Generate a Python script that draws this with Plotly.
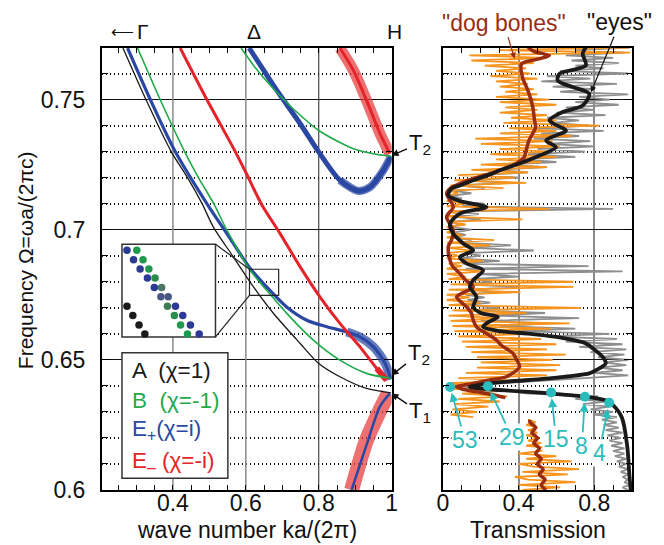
import numpy as np
import plotly.graph_objects as go

# ---------------- band structure (left panel) ----------------
A_k = [0.263, 0.326, 0.3953, 0.44, 0.48, 0.511, 0.566, 0.621, 0.676, 0.749, 0.80, 0.858, 0.931, 0.998]
A_w = [0.7698, 0.75, 0.73, 0.72, 0.71, 0.701, 0.6895, 0.678, 0.6678, 0.6563, 0.6486, 0.6435, 0.639, 0.6373]

B_k = [0.303, 0.365, 0.432, 0.47, 0.512, 0.548, 0.612, 0.657, 0.721, 0.785, 0.858, 0.931, 0.998]
B_w = [0.7698, 0.75, 0.73, 0.72, 0.71, 0.6998, 0.6844, 0.6767, 0.6665, 0.6576, 0.6499, 0.6448, 0.6429]
B2_k = [0.587, 0.63, 0.68, 0.735, 0.80, 0.895, 0.95, 0.998]
B2_w = [0.7698, 0.7615, 0.7535, 0.7458, 0.7381, 0.7311, 0.7292, 0.7282]

Ep_k = [0.2756, 0.338, 0.4063, 0.493, 0.548, 0.612, 0.657, 0.712, 0.767, 0.822, 0.877, 0.913, 0.95, 0.982, 0.998]
Ep_w = [0.7698, 0.75, 0.73, 0.71, 0.6985, 0.6851, 0.678, 0.6703, 0.6652, 0.6627, 0.6607, 0.6588, 0.655, 0.6486, 0.6425]
Ep2_k = [0.609, 0.65, 0.685, 0.749, 0.803, 0.858, 0.908, 0.941, 0.977, 0.998]
Ep2_w = [0.7698, 0.761, 0.7535, 0.7407, 0.7292, 0.719, 0.7149, 0.7164, 0.7228, 0.7282]
Ep3_k = [0.890, 0.931, 0.968, 0.995]
Ep3_w = [0.600, 0.6173, 0.6321, 0.6371]

Em_k = [0.420, 0.493, 0.571, 0.607, 0.642, 0.694, 0.749, 0.803, 0.858, 0.913, 0.959, 0.986]
Em_w = [0.7698, 0.75, 0.73, 0.72, 0.71, 0.6985, 0.6857, 0.6742, 0.664, 0.655, 0.6467, 0.6422]
Em2_k = [0.858, 0.895, 0.931, 0.968, 0.995]
Em2_w = [0.7698, 0.7612, 0.7497, 0.7369, 0.7292]
Em3_k = [0.890, 0.931, 0.968, 0.991]
Em3_w = [0.600, 0.6192, 0.6307, 0.6371]

# inset dots (zoomed view)
in_y = [0.6921, 0.6885, 0.6849, 0.6814, 0.6778, 0.6742, 0.6706, 0.6670, 0.6634, 0.6599]
in_blue_k = [0.274, 0.292, 0.310, 0.330, 0.349, 0.367, 0.407, 0.427, 0.448, 0.472]
in_green_k = [0.301, 0.318, 0.334, 0.351, 0.369, 0.387, 0.385, 0.404, 0.421, 0.440]
in_black_k = [0.274, 0.290, 0.307, 0.323]
in_black_y = [0.6706, 0.6670, 0.6634, 0.6599]

legend_rows = ["A  (χ=1)", "B  (χ=-1)", "E<sub>+</sub>(χ=i)", "E<sub>–</sub> (χ=-i)"]

# ---------------- transmission (right panel) ----------------
orange_lo = [0.42, 0.62, 0.40, 0.70, 0.45, 0.38, 0.66, 0.42, 0.72, 0.48,
             0.40, 0.68, 0.44, 0.60, 0.40, 0.52, 0.58, 0.44, 0.52, 0.45,
             0.51, 0.44, 0.50, 0.45, 0.50, 0.44, 0.49, 0.45]          # 0.600 .. 0.627
orange_hi = [0.16, 0.04, 0.18, 0.05, 0.24, 0.06, 0.30, 0.08, 0.34, 0.10,
             0.30, 0.02, 0.10, 0.03, 0.40, 0.08, 0.55, 0.12, 0.60, 0.18,
             0.62, 0.20, 0.58, 0.18, 0.65, 0.15, 0.55, 0.12, 0.60, 0.10,
             0.52, 0.08, 0.48, 0.06, 0.57, 0.05, 0.67, 0.04, 0.30, 0.03,
             0.44, 0.05, 0.73, 0.03, 0.20, 0.02, 0.14, 0.02, 0.41, 0.03,
             0.69, 0.04, 0.69, 0.03, 0.12, 0.02, 0.22, 0.02, 0.10, 0.03,
             0.21, 0.02, 0.08, 0.02, 0.15, 0.03, 0.25, 0.02, 0.27, 0.02,
             0.10, 0.02, 0.06, 0.02, 0.12, 0.03, 0.42, 0.02, 0.08, 0.03,
             0.56, 0.02, 0.12, 0.02, 0.06, 0.02, 0.08, 0.03, 0.32, 0.04,
             0.44, 0.06, 0.38, 0.08, 0.45, 0.15, 0.55, 0.20, 0.52, 0.28,
             0.60, 0.25, 0.55, 0.30, 0.62, 0.20, 0.58, 0.17, 0.68, 0.30,
             0.60, 0.35, 0.83, 0.32, 0.60, 0.36, 0.55, 0.30, 0.50, 0.33,
             0.60, 0.30, 0.56, 0.28, 0.50, 0.33, 0.48, 0.30, 0.45, 0.28,
             0.50, 0.25, 0.46, 0.28, 0.44, 0.22, 0.48, 0.15, 0.55, 0.14,
             0.99, 0.30, 0.98]                                          # 0.628 .. 0.770
gray_T = [0.98, 0.95, 0.99, 0.96, 0.98, 0.95, 0.98, 0.94, 0.98, 0.93,
          0.97, 0.92, 0.97, 0.91, 0.96, 0.90, 0.96, 0.89, 0.95, 0.88,
          0.94, 0.87, 0.95, 0.86, 0.93, 0.85, 0.92, 0.84, 0.92, 0.80,
          0.90, 0.78, 0.88, 0.74, 0.86, 0.70, 0.82, 0.45, 0.35, 0.15,
          0.10, 0.30, 0.55, 0.75, 0.98, 0.80, 0.95, 0.82, 0.97, 0.85,
          0.98, 0.82, 0.96, 0.78, 0.97, 0.72, 0.95, 0.65, 0.92, 0.55,
          0.88, 0.40, 0.70, 0.30, 0.55, 0.20, 0.72, 0.25, 0.54, 0.15,
          0.30, 0.12, 0.25, 0.13, 0.22, 0.12, 0.28, 0.15, 0.40, 0.12,
          0.26, 0.15, 0.40, 0.18, 0.95, 0.12, 0.77, 0.10, 0.30, 0.08,
          0.20, 0.12, 0.48, 0.15, 0.36, 0.08, 0.15, 0.05, 0.12, 0.06,
          0.15, 0.05, 0.08, 0.04, 0.20, 0.05, 0.19, 0.06, 0.90, 0.10,
          0.22, 0.05, 0.10, 0.04, 0.15, 0.05, 0.22, 0.08, 0.35, 0.10,
          0.40, 0.20, 0.45, 0.28, 0.55, 0.32, 0.60, 0.40, 0.70, 0.45,
          0.75, 0.50, 0.80, 0.55, 0.78, 0.48, 0.72, 0.52, 0.85, 0.50,
          0.78, 0.58, 0.72, 0.55, 0.86, 0.60, 0.80, 0.65, 0.93, 0.70,
          0.88, 0.72, 0.98, 0.62, 0.80, 0.58, 0.92, 0.52, 0.78, 0.55,
          0.98, 0.62, 0.85, 0.70, 0.93, 0.68, 0.90, 0.65, 0.96, 0.70,
          0.99]                                                         # 0.600 .. 0.770
freq_step = 0.001

eyes_f = [0.600, 0.606, 0.6166, 0.6281, 0.6339, 0.6358, 0.6371, 0.6380, 0.6388, 0.6396,
          0.6405, 0.6416, 0.6429, 0.6448, 0.6460, 0.6486, 0.6512, 0.6540, 0.6563, 0.6588,
          0.6601, 0.6610, 0.6627, 0.6645, 0.6665, 0.6680, 0.6703, 0.6742, 0.6780, 0.6806,
          0.6844, 0.6870, 0.6895, 0.6921, 0.6947, 0.6985, 0.7023, 0.7062, 0.7087, 0.7110,
          0.7132, 0.7158, 0.7170, 0.7190, 0.7215, 0.7228, 0.7254, 0.7285, 0.7317, 0.7343,
          0.7381, 0.7405, 0.7420, 0.7452, 0.7477, 0.7522, 0.7548, 0.7573, 0.7599, 0.7631,
          0.7676, 0.7701]
eyes_T = [0.993, 0.986, 0.975, 0.945, 0.879, 0.756, 0.57, 0.39, 0.22, 0.142,
          0.2, 0.335, 0.563, 0.774, 0.809, 0.861, 0.844, 0.80, 0.756, 0.60,
          0.45, 0.30, 0.212, 0.24, 0.29, 0.20, 0.16, 0.177, 0.142, 0.16,
          0.212, 0.125, 0.089, 0.16, 0.107, 0.054, 0.037, 0.089, 0.23, 0.089,
          0.028, 0.045, 0.089, 0.16, 0.26, 0.30, 0.405, 0.511, 0.598, 0.546,
          0.651, 0.59, 0.563, 0.633, 0.739, 0.774, 0.686, 0.607, 0.616, 0.756,
          0.739, 0.756]

dog_f = [0.6355, 0.6368, 0.6377, 0.6388, 0.6396, 0.6409, 0.6422, 0.6435, 0.6473, 0.6500,
         0.6525, 0.6555, 0.6576, 0.6601, 0.6625, 0.6652, 0.6680, 0.6703, 0.6742, 0.6780,
         0.6806, 0.6832, 0.6860, 0.6883, 0.6934, 0.6960, 0.6998, 0.7049, 0.7087, 0.7139,
         0.7160, 0.7177, 0.7196, 0.7215, 0.7234, 0.7254, 0.7279, 0.7305, 0.7343, 0.7394,
         0.7420, 0.7471, 0.7535, 0.7586, 0.7637, 0.7655, 0.7669, 0.7685, 0.7700]
dog_T = [0.33, 0.25, 0.18, 0.10, 0.072, 0.16, 0.24, 0.335, 0.405, 0.39,
         0.37, 0.31, 0.283, 0.23, 0.18, 0.16, 0.15, 0.125, 0.072, 0.16,
         0.12, 0.089, 0.05, 0.037, 0.028, 0.045, 0.054, 0.019, 0.054, 0.019,
         0.04, 0.089, 0.16, 0.247, 0.32, 0.388, 0.43, 0.44, 0.455, 0.49,
         0.484, 0.475, 0.449, 0.42, 0.416, 0.50, 0.563, 0.48, 0.45]
dog_lo_f = [0.600, 0.602, 0.604, 0.606, 0.608, 0.610, 0.612, 0.614, 0.616, 0.618, 0.620, 0.622, 0.624, 0.626, 0.627]
dog_lo_T = [0.545, 0.52, 0.54, 0.51, 0.53, 0.50, 0.52, 0.49, 0.51, 0.48, 0.50, 0.47, 0.49, 0.46, 0.46]

cyan_T = [0.037, 0.238, 0.572, 0.751, 0.879]
cyan_f = [0.6396, 0.6399, 0.6375, 0.6358, 0.6335]
cyan_labels = ["53", "29", "15", "8", "4"]
cyan_offsets = [(15, 53), (24, 51), (5, 47), (-3, 49), (-10, 50)]

# ---------------- styling ----------------
FONT = "Liberation Sans, Arial, sans-serif"
C_BLACK = "#1a1a1a"
C_GREEN = "#1faa4a"
C_BLUE = "#2a48a3"
C_RED = "#e5232a"
C_RED_T = "rgba(232,58,58,0.72)"
C_BLUE_T = "rgba(42,72,163,0.72)"
C_ORANGE = "#f7941d"
C_GRAY = "#8e8e8e"
C_DOG = "#9a2c12"
C_CYAN = "#2bbdbd"

fig = go.Figure()


def line(x, y, color, width, ax="x", ay="y", spline=True):
    fig.add_trace(go.Scatter(
        x=x, y=y, mode="lines", xaxis=ax, yaxis=ay,
        line=dict(color=color, width=width,
                  shape="spline" if spline else "linear", smoothing=0.8),
        hoverinfo="skip", showlegend=False))


# left panel bands
line(Em2_k, Em2_w, C_RED_T, 11)
line(Em3_k, Em3_w, C_RED_T, 15)
line(Em2_k, Em2_w, C_RED, 3)
line(Ep_k[10:], Ep_w[10:], C_BLUE_T, 9)
line(Ep2_k[5:], Ep2_w[5:], C_BLUE_T, 8)
line(Ep_k, Ep_w, C_BLUE, 3.2)
line(Ep2_k, Ep2_w, C_BLUE, 5)
line(Ep3_k, Ep3_w, C_BLUE, 2.5)
line(Em_k, Em_w, C_RED, 3)
line(Em_k[-2:], Em_w[-2:], C_RED, 6)
line(A_k, A_w, C_BLACK, 1.3)
line(B_k, B_w, C_GREEN, 1.6)
line(B2_k, B2_w, C_GREEN, 1.6)

# inset dots
blue_cols = ["#2b3a92"] * 5 + ["#4a5584", "#2b3a92", "#2b3a92", "#2b3a92", "#2b3a92"]
green_cols = ["#1f9a4c", "#1f9a4c", "#1f9a4c", "#2e8a4a", "#4a7560", "#4a5584",
              "#3f7a55", "#2a8f4e", "#1f9a4c", "#1f9a4c"]
fig.add_trace(go.Scatter(x=in_blue_k, y=in_y, mode="markers", xaxis="x", yaxis="y",
                         marker=dict(size=7.5, color=blue_cols), hoverinfo="skip", showlegend=False))
fig.add_trace(go.Scatter(x=in_green_k, y=in_y, mode="markers", xaxis="x", yaxis="y",
                         marker=dict(size=7.5, color=green_cols), hoverinfo="skip", showlegend=False))
fig.add_trace(go.Scatter(x=in_black_k, y=in_black_y, mode="markers", xaxis="x", yaxis="y",
                         marker=dict(size=7.5, color="#1a1a1a"), hoverinfo="skip", showlegend=False))

# right panel spiky data
f_lo = [round(0.600 + freq_step * i, 4) for i in range(len(orange_lo))]
f_hi = [round(0.628 + freq_step * i, 4) for i in range(len(orange_hi))]
f_gray = [round(0.600 + freq_step * i, 4) for i in range(len(gray_T))]
line(gray_T, f_gray, C_GRAY, 1.8, "x2", "y2", spline=False)
line(orange_lo + [None] + orange_hi, f_lo + [None] + f_hi, C_ORANGE, 1.8, "x2", "y2", spline=False)
line(dog_lo_T, dog_lo_f, C_DOG, 3.5, "x2", "y2")
line(dog_T, dog_f, C_DOG, 3.5, "x2", "y2")
line(eyes_T, eyes_f, C_BLACK, 3.8, "x2", "y2")
fig.add_trace(go.Scatter(x=cyan_T, y=cyan_f, mode="markers", xaxis="x2", yaxis="y2",
                         marker=dict(size=10, color=C_CYAN), hoverinfo="skip", showlegend=False))

# ---------------- shapes ----------------
shapes = []
for xv, col, w in [(0.4, "#8a8a8a", 1.5), (0.6, "#8a8a8a", 1.5), (0.8, "#222222", 1.0)]:
    shapes.append(dict(type="line", xref="x", yref="y", x0=xv, x1=xv, y0=0.6, y1=0.7698,
                       line=dict(color=col, width=w), layer="between"))
shapes.append(dict(type="rect", xref="x", yref="y", x0=0.2603, x1=0.5167, y0=0.6588, y1=0.6944,
                   fillcolor="white", line=dict(color="#333333", width=1.5), layer="between"))
shapes.append(dict(type="rect", xref="x", yref="y", x0=0.2603, x1=0.5507, y0=0.6045, y1=0.6527,
                   fillcolor="white", line=dict(color="#333333", width=1.5), layer="between"))
shapes.append(dict(type="rect", xref="x", yref="y", x0=0.610, x1=0.690, y0=0.6748, y1=0.6848,
                   line=dict(color="#222222", width=1.2), layer="above"))
shapes.append(dict(type="line", xref="x", yref="y", x0=0.5167, y0=0.6944, x1=0.610, y1=0.6848,
                   line=dict(color="#222222", width=1.2), layer="above"))
shapes.append(dict(type="line", xref="x", yref="y", x0=0.5167, y0=0.6588, x1=0.610, y1=0.6748,
                   line=dict(color="#222222", width=1.2), layer="above"))

# ---------------- annotations ----------------
ann = []
leg_y = [0.6460, 0.6345, 0.6230, 0.6109]
leg_c = [C_BLACK, C_GREEN, C_BLUE, C_RED]
for t, yv, c in zip(legend_rows, leg_y, leg_c):
    ann.append(dict(xref="x", yref="y", x=0.281, y=yv, text=t, showarrow=False,
                    xanchor="left", yanchor="middle", font=dict(size=22.5, color=c)))

T_items = [(0.7285, "T<sub>2</sub>", 28, -12), (0.6441, "T<sub>2</sub>", 27, -21), (0.6371, "T<sub>1</sub>", 28, 19)]
for yv, t, axo, ayo in T_items:
    ann.append(dict(xref="x", yref="y", x=0.9995, y=yv, text=t, showarrow=True,
                    ax=axo, ay=ayo, arrowhead=2, arrowsize=1, arrowwidth=1.4,
                    arrowcolor="#111111", font=dict(size=22, color="#111111")))

# top symmetry labels
for xp, t, sz in [(0.038, "⟵", 16), (0.0774, "Γ", 21), (0.2862, "Δ", 21), (0.551, "H", 21)]:
    ann.append(dict(xref="paper", yref="paper", x=xp, y=1.037, text=t, showarrow=False,
                    xanchor="center", yanchor="middle", font=dict(size=sz, color="#111111")))

# axis titles
ann.append(dict(xref="paper", yref="paper", x=0.2736, y=-0.091, text="wave number ka/(2π)",
                showarrow=False, xanchor="center", yanchor="middle", font=dict(size=23, color="#111111")))
ann.append(dict(xref="paper", yref="paper", x=0.8226, y=-0.091, text="Transmission",
                showarrow=False, xanchor="center", yanchor="middle", font=dict(size=23, color="#111111")))
ann.append(dict(xref="paper", yref="paper", x=-0.1453, y=0.520, text="Frequency Ω=ωa/(2πc)",
                showarrow=False, textangle=-90, xanchor="center", yanchor="middle",
                font=dict(size=21, color="#111111")))

# right panel labels
ann.append(dict(xref="x2", yref="y2", x=0.379, y=0.7657, text='"dog bones"', showarrow=True,
                ax=-11, ay=-36, arrowhead=2, arrowsize=1, arrowwidth=1.2, arrowcolor=C_DOG,
                font=dict(size=23, color=C_DOG)))
ann.append(dict(xref="x2", yref="y2", x=0.783, y=0.7528, text='"eyes"', showarrow=True,
                ax=29, ay=-70, arrowhead=2, arrowsize=1, arrowwidth=1.2, arrowcolor="#111111",
                font=dict(size=23, color="#111111")))
for tv, fv, lab, (axo, ayo) in zip(cyan_T, cyan_f, cyan_labels, cyan_offsets):
    ann.append(dict(xref="x2", yref="y2", x=tv, y=fv, text=lab, showarrow=True,
                    ax=axo, ay=ayo, arrowhead=2, arrowsize=1, arrowwidth=1.8, standoff=6,
                    arrowcolor=C_CYAN, bgcolor="white", borderpad=0,
                    font=dict(size=23, color=C_CYAN)))

axis_common = dict(showline=True, linewidth=2, linecolor="black", mirror="ticks",
                   ticks="inside", tickcolor="black", tickwidth=1.2, zeroline=False,
                   tickfont=dict(size=23, color="#111111", family=FONT))
yaxis_common = dict(axis_common, range=[0.6, 0.7698], tick0=0.6, dtick=0.05, ticklen=8,
                    showgrid=True, gridcolor="#111111", gridwidth=1.2,
                    minor=dict(dtick=0.01, showgrid=True, gridcolor="#111111", gridwidth=1.5,
                               griddash="1px,3px", ticks="inside", ticklen=6, tickcolor="black"))

# the page body adds an 8px offset, so the figure is 8px smaller and margins shifted
fig.update_layout(
    width=656, height=537,
    margin=dict(l=94, r=32, t=40, b=55),
    paper_bgcolor="white", plot_bgcolor="white",
    font=dict(family=FONT, size=21, color="#111111"),
    showlegend=False,
    xaxis=dict(axis_common, domain=[0, 0.5466], anchor="y", range=[0.2055, 1.0],
               tick0=0, dtick=0.2, ticklen=5, showgrid=False, ticklabelstandoff=-9,
               minor=dict(dtick=0.05, ticks="inside", ticklen=5, tickcolor="black")),
    yaxis=dict(yaxis_common, domain=[0, 1], anchor="x", ticklabelstandoff=10),
    xaxis2=dict(axis_common, domain=[0.6434, 1.0], anchor="y2", range=[0, 1.0],
                tick0=0, dtick=0.4, ticklen=5, showgrid=True, gridcolor="#8a8a8a", gridwidth=1.5,
                ticklabelstandoff=-9,
                minor=dict(dtick=0.1, ticks="inside", ticklen=5, tickcolor="black")),
    yaxis2=dict(yaxis_common, domain=[0, 1], anchor="x2", showticklabels=False),
    shapes=shapes,
    annotations=ann,
)

fig.write_html("out.html")
